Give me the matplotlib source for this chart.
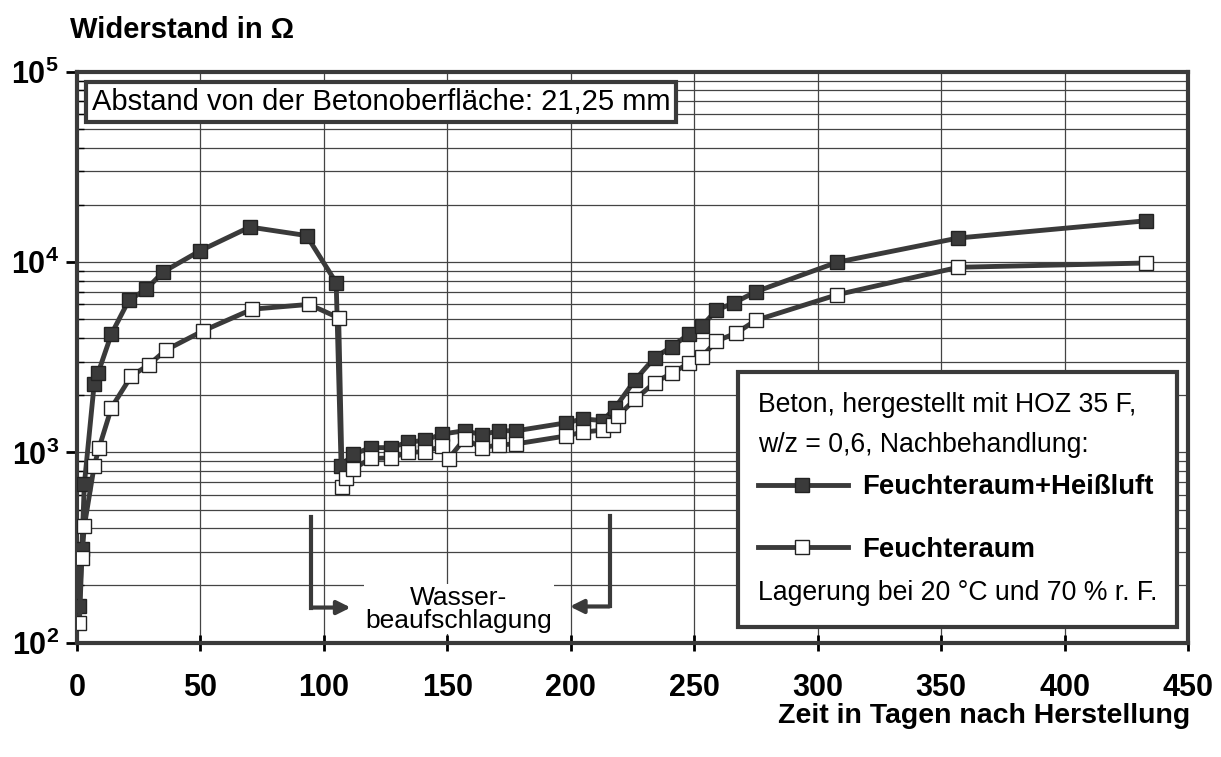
import math
import matplotlib
matplotlib.use('Agg')
import matplotlib.pyplot as plt
from matplotlib.patches import Rectangle
from matplotlib.lines import Line2D
from matplotlib.ticker import FixedLocator, FuncFormatter, LogLocator

plt.rcParams['font.family'] = ['Liberation Sans', 'DejaVu Sans']
plt.rcParams['mathtext.fontset'] = 'custom'
plt.rcParams['mathtext.rm'] = 'Liberation Sans'
plt.rcParams['mathtext.bf'] = 'Liberation Sans:bold'

# Feuchteraum + Heißluft (filled squares)
days_hl = [1, 2, 3, 7, 8.5, 14, 21, 28, 35, 50, 70, 93, 105, 107, 112, 119,
           127, 134, 141, 148, 157, 164, 171, 178, 198, 205, 213, 218, 226,
           234, 241, 248, 253, 259, 266, 275, 308, 357, 433]
r_hl = [155, 310, 680, 2300, 2600, 4200, 6300, 7200, 8900, 11500, 15300,
        13800, 7800, 850, 980, 1060, 1060, 1130, 1160, 1250, 1300, 1240, 1300,
        1300, 1430, 1500, 1470, 1720, 2400, 3150, 3600, 4200, 4600, 5600,
        6100, 7000, 10000, 13400, 16500]

# Feuchteraum (open squares)
days_f = [1, 2, 3, 7, 9, 14, 22, 29, 36, 51, 71, 94, 106, 107.5, 109, 112,
          119, 127, 134, 141, 148, 150.5, 157, 164, 171, 178, 198, 205, 213,
          217, 219, 226, 234, 241, 248, 253, 259, 267, 275, 308, 357, 433]
r_f = [127, 280, 410, 850, 1060, 1720, 2520, 2880, 3450, 4350, 5660, 6000,
       5100, 660, 735, 820, 930, 935, 1000, 1010, 1080, 925, 1180, 1060, 1095,
       1110, 1220, 1280, 1310, 1390, 1550, 1900, 2330, 2610, 2950, 3170, 3850,
       4240, 4950, 6750, 9400, 9900]

x_ticks = [0, 50, 100, 150, 200, 250, 300, 350, 400, 450]
y_ticks = [1e2, 1e3, 1e4, 1e5]

dark = '#3a3a3a'

fig = plt.figure(figsize=(12.21, 7.57), dpi=100)
ax = fig.add_axes([0.063, 0.151, 0.910, 0.754])

ax.set_yscale('log')
ax.set_xlim(0, 450)
ax.set_ylim(1e2, 1e5)

ax.plot(days_hl, r_hl, color=dark, lw=3.5, marker='s', ms=10.5,
        mfc=dark, mec='#222222', mew=1, zorder=4)
ax.plot(days_f, r_f, color=dark, lw=3.5, marker='s', ms=10.5,
        mfc='white', mec='#222222', mew=1, zorder=5)

ax.xaxis.set_major_locator(FixedLocator(x_ticks))
ax.yaxis.set_major_locator(FixedLocator(y_ticks))
ax.yaxis.set_minor_locator(LogLocator(base=10, subs=range(2, 10)))
ax.yaxis.set_major_formatter(FuncFormatter(
    lambda v, p: r'$\mathbf{10^{%d}}$' % round(math.log10(v))))
ax.yaxis.set_minor_formatter(FuncFormatter(lambda v, p: ''))

ax.grid(True, which='major', axis='x', color='#444444', lw=0.9)
ax.grid(True, which='both', axis='y', color='#444444', lw=0.9)

ax.tick_params(axis='x', which='major', direction='inout', length=12,
               width=2, pad=16, labelsize=22)
ax.tick_params(axis='y', which='major', direction='out', length=8,
               width=2, pad=5, labelsize=22)
ax.tick_params(axis='y', which='minor', direction='in', length=5, width=1)
for lab in ax.get_xticklabels():
    lab.set_fontweight('bold')

for s in ax.spines.values():
    s.set_linewidth(3)
    s.set_color('#3a3a3a')

fig.text(70 / 1221, 1 - 30 / 757, 'Widerstand in Ω', fontsize=21,
         fontweight='bold', va='center', ha='left')
fig.text(1190 / 1221, 1 - 716 / 757, 'Zeit in Tagen nach Herstellung',
         fontsize=20.5, fontweight='bold', va='center', ha='right')

ax.text(0.0135, 0.947, 'Abstand von der Betonoberfläche: 21,25 mm',
        transform=ax.transAxes, fontsize=21, va='center', ha='left',
        zorder=7,
        bbox=dict(boxstyle='square,pad=0.2', fc='white', ec=dark, lw=3))

# legend box
ax.add_patch(Rectangle((0.595, 0.028), 0.395, 0.447, transform=ax.transAxes,
                       fc='white', ec=dark, lw=3, zorder=6))
ax.text(0.613, 0.417, 'Beton, hergestellt mit HOZ 35 F,',
        transform=ax.transAxes, fontsize=19.2, va='center', zorder=7)
ax.text(0.613, 0.347, 'w/z = 0,6, Nachbehandlung:',
        transform=ax.transAxes, fontsize=19.2, va='center', zorder=7)
ax.add_line(Line2D([0.613, 0.694], [0.277, 0.277], transform=ax.transAxes,
                   color=dark, lw=3.5, zorder=7))
ax.add_line(Line2D([0.653], [0.277], transform=ax.transAxes, marker='s',
                   ms=10.5, mfc=dark, mec='#222222', zorder=8))
ax.text(0.7066, 0.272, 'Feuchteraum+Heißluft', transform=ax.transAxes,
        fontsize=19.8, fontweight='bold', va='center', zorder=7)
ax.add_line(Line2D([0.613, 0.694], [0.168, 0.168], transform=ax.transAxes,
                   color=dark, lw=3.5, zorder=7))
ax.add_line(Line2D([0.653], [0.168], transform=ax.transAxes, marker='s',
                   ms=10.5, mfc='white', mec='#222222', zorder=8))
ax.text(0.7066, 0.163, 'Feuchteraum', transform=ax.transAxes,
        fontsize=19.8, fontweight='bold', va='center', zorder=7)
ax.text(0.613, 0.0876, 'Lagerung bei 20 °C und 70 % r. F.',
        transform=ax.transAxes, fontsize=19.2, va='center', zorder=7)

# Wasserbeaufschlagung arrows
ax.plot([94.7, 94.7], [460, 153], color=dark, lw=3, zorder=6)
ax.annotate('', xy=(112, 153), xytext=(93.8, 153),
            arrowprops=dict(arrowstyle='-|>,head_length=0.8,head_width=0.4',
                            color=dark, lw=3), zorder=6)
ax.plot([215.8, 215.8], [465, 155], color=dark, lw=3, zorder=6)
ax.annotate('', xy=(198.5, 155), xytext=(216.7, 155),
            arrowprops=dict(arrowstyle='-|>,head_length=0.8,head_width=0.4',
                            color=dark, lw=3), zorder=6)
ax.text(154.7, 150, 'Wasser-\nbeaufschlagung', fontsize=19, ha='center',
        va='center', linespacing=0.95, zorder=6,
        bbox=dict(fc='white', ec='none', pad=1))

fig.savefig('out.png', dpi=100)
